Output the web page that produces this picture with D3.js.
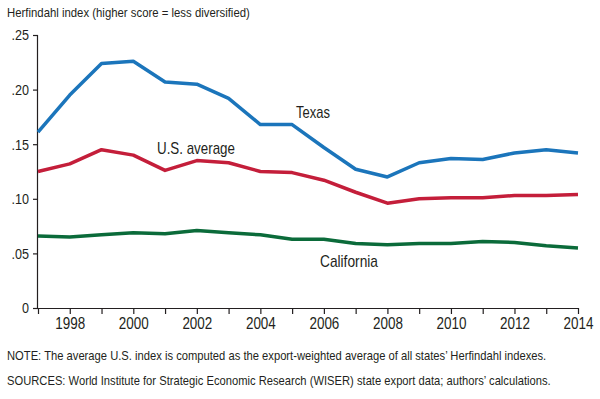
<!DOCTYPE html>
<html>
<head>
<meta charset="utf-8">
<script src="https://cdn.jsdelivr.net/npm/d3@7"></script>
<style>
  body { margin: 0; background: #fff; }
  svg text { font-family: "Liberation Sans", Arial, sans-serif; fill: #231f20; }
</style>
</head>
<body>
<div id="vis"></div>
<script>
// data
let years = d3.range(1997, 2015);
let texas = [.161, .195, .224, .226, .207, .205, .192, .168, .168, .147, .127, .120, .133, .137, .136, .142, .145, .142];
let usAverage = [.125, .132, .145, .140, .126, .135, .133, .125, .124, .117, .106, .096, .100, .101, .101, .103, .103, .104];
let california = [.066, .065, .067, .069, .068, .071, .069, .067, .063, .063, .059, .058, .059, .059, .061, .060, .057, .055];
let yTicks = [0, .05, .10, .15, .20, .25];

let width = 600, height = 399;
let margin = { top: 35, left: 38, right: 22, bottom: 91 };

// the reference uses a condensed face, squeeze Liberation Sans to fit
function condense(sel, factor) {
    sel.each(function() {
        let w = this.getComputedTextLength();
        if (w > 0) {
            d3.select(this)
                .attr('textLength', w * factor)
                .attr('lengthAdjust', 'spacingAndGlyphs');
        }
    });
}

// place a text at (tx, ty) and scale it horizontally to width w
function addText(tx, ty, size, str, w) {
    let t = svg.append('text')
        .style('font-size', size + 'px')
        .text(str);
    let k = w / t.node().getComputedTextLength();
    t.attr('transform', `translate(${tx},${ty}) scale(${k},1)`);
    return t;
}

let svg = d3.select('#vis')
    .append('svg')
    .attr('width', width)
    .attr('height', height);

let x = d3.scaleLinear()
    .domain([1997, 2014])
    .range([margin.left, width - margin.right]);

let y = d3.scaleLinear()
    .domain([0, .25])
    .range([height - margin.bottom, margin.top]);

// y axis
let yAxis = svg.append('g')
    .attr('transform', `translate(${margin.left},0)`)
    .call(d3.axisLeft(y)
        .tickValues(yTicks)
        .tickSize(5)
        .tickPadding(4)
        .tickFormat(d => d === 0 ? '0' : d3.format('.2f')(d).replace(/^0/, '')));

// x axis, a tick every year but labels on even years
let xAxis = svg.append('g')
    .attr('transform', `translate(0,${height - margin.bottom})`)
    .call(d3.axisBottom(x)
        .tickValues(years)
        .tickSize(6)
        .tickPadding(4)
        .tickFormat(d => d % 2 === 0 ? d : ''));

svg.selectAll('.domain, .tick line')
    .attr('stroke', '#231f20')
    .attr('stroke-width', 1.2);
yAxis.selectAll('.tick text').style('font-size', '15px').call(condense, 0.84);
xAxis.selectAll('.tick text').style('font-size', '16px').call(condense, 0.84);
yAxis.select('.domain').attr('d', `M-0.5,${y(.25)}V${y(0)}`);
xAxis.select('.domain').attr('d', `M${x(1997)},0.5H${x(2014)}`);

let line = d3.line()
    .x((d, i) => x(years[i]))
    .y(d => y(d));

let series = [
    { name: 'Texas', values: texas, color: '#1b75bb', lx: 296, ly: 118, lw: 34 },
    { name: 'U.S. average', values: usAverage, color: '#c41e3a', lx: 157, ly: 154, lw: 78 },
    { name: 'California', values: california, color: '#0b6b3a', lx: 320, ly: 267, lw: 58 }
];

series.forEach(s => {
    svg.append('path')
        .datum(s.values)
        .attr('d', line)
        .attr('fill', 'none')
        .attr('stroke', s.color)
        .attr('stroke-width', 3.5)
        .attr('stroke-linejoin', 'round');
    addText(s.lx, s.ly, 16, s.name, s.lw);
});

// title and notes
addText(7, 17, 13, 'Herfindahl index (higher score = less diversified)', 243);
addText(7, 360, 12.5, 'NOTE: The average U.S. index is computed as the export-weighted average of all states\u2019 Herfindahl indexes.', 540);
addText(7, 385, 12.5, 'SOURCES: World Institute for Strategic Economic Research (WISER) state export data; authors\u2019 calculations.', 544);
</script>
</body>
</html>
